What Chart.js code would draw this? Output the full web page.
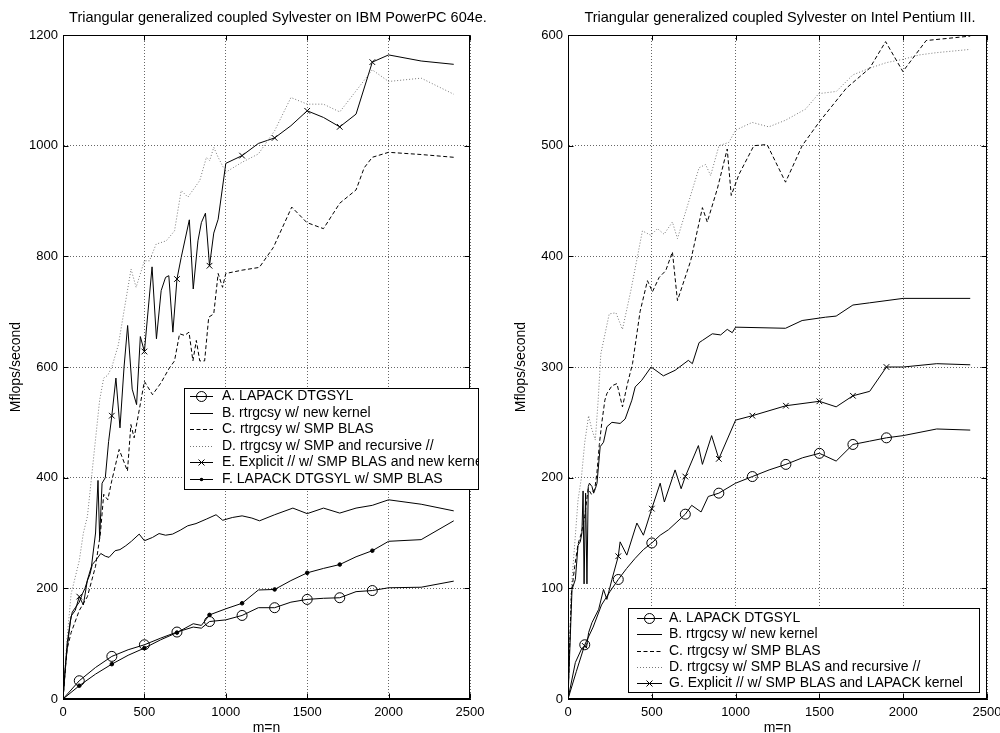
<!DOCTYPE html>
<html>
<head>
<meta charset="utf-8">
<script src="https://cdn.jsdelivr.net/npm/chart.js@4/dist/chart.umd.min.js"></script>
<style>
  body { margin: 0; background: #fff; }
  #wrap { position: relative; width: 1000px; height: 733px; }
  .pane { position: absolute; top: 0; width: 500px; height: 733px; }
</style>
</head>
<body>
<div id="wrap">
  <div class="pane" style="left:0"><canvas id="ibmChart" width="500" height="733"></canvas></div>
  <div class="pane" style="left:500px"><canvas id="intelChart" width="500" height="733"></canvas></div>
</div>
<script>
// ---- IBM PowerPC 604e (left) ----
const ibmAx = [0,100,200,300,400,500,600,700,800,850,900,1000,1100,1200,1300,1400,1500,1600,1700,1800,1900,2000,2200,2400];
const ibmAy = [0,33,57,77,89,98,110,121,130,128,140,143,151,165,165,175,180,182,183,194,196,201,202,213];
const ibmBx = [0,15,27,45,57,78,100,119,135,150,165,180,200,232,260,283,320,350,386,420,468,500,550,590,630,673,720,766,817,880,940,981,1040,1100,1160,1207,1300,1412,1500,1600,1700,1800,1900,2000,2200,2400];
const ibmBy = [0,60,94,140,157,166,175,190,200,214,225,243,250,263,258,256,268,270,277,285,298,286,292,299,296,298,305,313,317,325,333,323,328,331,327,322,333,345,335,345,336,345,350,360,352,340];
const ibmCx = [0,25,50,100,150,200,230,250,275,300,345,396,417,437,478,500,550,601,653,685,716,747,774,798,819,840,870,895,926,953,980,1000,1100,1206,1292,1405,1498,1600,1700,1800,1850,1900,2000,2200,2400];
const ibmCy = [0,90,120,160,185,240,300,370,360,395,451,412,496,472,538,574,550,571,598,611,660,657,663,611,648,611,611,690,696,769,744,769,775,780,816,889,861,850,896,920,960,979,988,984,979];
const ibmDx = [0,25,50,100,125,150,175,200,225,250,275,300,340,377,418,449,500,531,572,634,685,726,767,840,881,901,926,953,1000,1100,1200,1300,1400,1500,1600,1700,1900,2000,2200,2400];
const ibmDy = [0,110,190,250,300,330,400,470,540,580,585,600,640,705,777,744,792,792,822,828,846,919,907,937,979,973,997,979,952,970,985,1027,1087,1075,1075,1061,1137,1116,1122,1093];
const ibmEx = [0,25,50,75,100,125,150,175,200,215,225,240,260,280,300,325,350,375,397,425,452,475,500,547,574,603,630,650,675,700,726,776,800,829,850,875,900,926,953,1000,1100,1200,1300,1400,1500,1600,1700,1800,1900,2000,2200,2400];
const ibmEy = [0,100,150,160,185,170,215,240,300,395,290,390,400,465,512,580,490,600,675,560,532,655,628,781,651,738,762,765,663,759,798,866,741,828,861,878,783,842,867,968,982,1004,1014,1036,1063,1051,1034,1057,1151,1164,1153,1147];
const ibmFx = [0,100,200,300,400,500,600,700,800,850,900,1000,1100,1200,1300,1400,1500,1600,1700,1800,1900,2000,2200,2400];
const ibmFy = [0,24,45,63,79,92,107,120,136,133,152,163,173,197,198,214,228,236,243,257,268,285,288,322];

// ---- Intel Pentium III (right) ----
const intelAx = [0,50,100,150,200,250,300,350,400,450,500,550,600,650,700,738,794,837,900,1000,1100,1200,1300,1400,1500,1600,1700,1800,1900,2000,2200,2400];
const intelAy = [0,25,49,65,85,97,108,118,127,135,141,148,153,160,167,175,169,183,186,195,201,207,212,218,222,215,230,233,236,238,244,243];
const intelBx = [0,24,44,60,73,83,90,96,105,113,121,128,143,153,163,173,192,212,232,262,311,341,381,401,440,496,569,639,718,742,782,802,861,911,950,980,1000,1298,1397,1536,1600,1700,1800,2000,2400];
const intelBy = [0,99,108,139,142,150,188,104,186,104,192,195,192,186,190,195,228,232,246,250,249,253,270,282,288,300,292,297,306,303,322,324,330,329,334,331,336,335,342,345,346,356,358,362,362];
const intelCx = [0,20,40,60,80,100,120,140,160,173,187,202,220,232,262,292,325,355,385,430,474,504,544,583,623,653,732,802,831,891,950,974,1020,1109,1188,1298,1397,1502,1661,1800,1895,1998,2137,2400];
const intelCy = [0,95,120,140,150,165,190,185,190,205,230,250,270,276,283,285,264,285,303,350,378,368,381,387,404,360,396,444,431,461,497,455,474,500,501,467,500,522,552,570,594,567,595,599];
const intelDx = [0,20,40,60,80,100,123,140,163,180,196,246,286,325,375,444,494,534,573,623,653,782,821,851,901,960,1000,1099,1198,1298,1417,1496,1601,1700,1800,1899,1998,2097,2196,2400];
const intelDy = [0,100,140,180,200,232,256,245,234,270,312,348,349,334,369,423,419,425,420,431,416,480,483,473,500,503,514,521,517,523,533,547,549,564,570,575,578,582,584,587];
const intelGx = [0,44,80,100,110,123,143,183,212,232,262,300,311,351,411,450,500,550,575,639,675,700,778,802,857,900,1000,1100,1300,1500,1600,1700,1800,1900,2000,2200,2400];
const intelGy = [0,33,45,48,46,60,69,81,99,90,108,129,142,130,159,148,172,195,178,207,190,201,229,212,238,217,252,256,265,269,264,274,278,300,300,303,302];

// x positions that carry a marker
const markEvery200 = [100,300,500,700,900,1100,1300,1500,1700,1900];

const FONT = "'Liberation Sans', Arial, Helvetica, sans-serif";
Chart.defaults.font.family = FONT;
Chart.defaults.font.size = 13;
Chart.defaults.color = '#000';

function pts(xs, ys) {
  return xs.map((x, i) => ({ x: x, y: ys[i] }));
}

function series(label, xs, ys, kind, marks) {
  const ds = {
    label: label,
    data: pts(xs, ys),
    borderColor: '#000',
    borderWidth: 1,
    tension: 0,
    fill: false,
    pointStyle: 'circle',
    pointBorderColor: '#000',
    pointBorderWidth: 1,
    pointBackgroundColor: 'rgba(0,0,0,0)',
    pointRadius: 0,
    mark: null
  };
  if (kind === 'dash') ds.borderDash = [4, 2.5];
  if (kind === 'dot') { ds.borderDash = [1, 2]; ds.borderColor = '#777'; }
  if (kind === 'circle') ds.mark = 'circle';
  if (kind === 'cross') { ds.mark = 'cross'; ds.pointStyle = 'crossRot'; }
  if (kind === 'dotmark') { ds.mark = 'dot'; ds.pointBackgroundColor = '#000'; }
  const r = kind === 'circle' ? 5 : kind === 'cross' ? 4 : 1.8;
  if (marks) {
    ds.pointRadius = c => (c.raw && marks.includes(c.raw.x)) ? r : 0;
  }
  return ds;
}

function drawMark(ctx, mark, x, y) {
  ctx.save();
  ctx.setLineDash([]);
  ctx.strokeStyle = '#000';
  ctx.fillStyle = '#000';
  ctx.lineWidth = 1;
  ctx.beginPath();
  if (mark === 'circle') {
    ctx.arc(x, y, 5, 0, Math.PI * 2);
    ctx.stroke();
  } else if (mark === 'cross') {
    ctx.moveTo(x - 3, y - 3); ctx.lineTo(x + 3, y + 3);
    ctx.moveTo(x + 3, y - 3); ctx.lineTo(x - 3, y + 3);
    ctx.stroke();
  } else if (mark === 'dot') {
    ctx.arc(x, y, 1.8, 0, Math.PI * 2);
    ctx.fill();
  }
  ctx.restore();
}

// box around plot, inward ticks, title and the boxed legend
const framePlugin = {
  id: 'frame',
  afterDraw(chart, args, opts) {
    const ctx = chart.ctx;
    const a = chart.chartArea;
    const xs = chart.scales.x, ys = chart.scales.y;
    ctx.save();
    ctx.strokeStyle = '#000';
    ctx.lineWidth = 1;
    const L = Math.round(a.left) + 0.5, R = Math.round(a.right) - 0.5;
    const T = Math.round(a.top) + 0.5, B = Math.round(a.bottom) - 0.5;
    ctx.beginPath();
    xs.ticks.forEach(t => {
      const p = Math.round(xs.getPixelForValue(t.value)) + 0.5;
      ctx.moveTo(p, B); ctx.lineTo(p, B - 5);
      ctx.moveTo(p, T); ctx.lineTo(p, T + 5);
    });
    ys.ticks.forEach(t => {
      const p = Math.round(ys.getPixelForValue(t.value)) + 0.5;
      ctx.moveTo(L, p); ctx.lineTo(L + 5, p);
      ctx.moveTo(R, p); ctx.lineTo(R - 5, p);
    });
    ctx.stroke();
    ctx.strokeRect(L, T, R - L, B - T);

    // title
    ctx.fillStyle = '#000';
    ctx.font = '14.5px ' + FONT;
    ctx.textAlign = 'center';
    ctx.textBaseline = 'alphabetic';
    ctx.fillText(opts.title, opts.titleX, 22);

    // legend
    const g = opts.legend;
    ctx.save();
    ctx.fillStyle = '#fff';
    ctx.fillRect(g.x, g.y, g.w, g.h);
    ctx.beginPath();
    ctx.rect(g.x, g.y, g.w, g.h);
    ctx.clip();
    chart.data.datasets.forEach((ds, i) => {
      const cy = Math.round(g.y + g.first + i * g.rowH) + 0.5;
      ctx.strokeStyle = ds.borderColor;
      ctx.lineWidth = 1;
      ctx.setLineDash(ds.borderDash || []);
      ctx.beginPath();
      ctx.moveTo(g.x + g.s0, cy);
      ctx.lineTo(g.x + g.s1, cy);
      ctx.stroke();
      ctx.setLineDash([]);
      if (ds.mark) drawMark(ctx, ds.mark, g.x + (g.s0 + g.s1) / 2, cy);
      ctx.fillStyle = '#000';
      ctx.font = '14px ' + FONT;
      ctx.textAlign = 'left';
      ctx.textBaseline = 'middle';
      ctx.fillText(ds.label, g.x + g.tx, cy);
    });
    ctx.restore();
    ctx.strokeStyle = '#000';
    ctx.lineWidth = 1;
    ctx.strokeRect(g.x + 0.5, g.y + 0.5, g.w, g.h);
    ctx.restore();
  }
};

function makeChart(id, datasets, yMax, yStep, axisW, padRight, yTitlePad, frameOpts) {
  return new Chart(document.getElementById(id), {
    type: 'line',
    data: { datasets: datasets },
    options: {
      responsive: false,
      animation: false,
      layout: { padding: { top: 35, right: padRight, left: 0, bottom: 0 } },
      plugins: {
        legend: { display: false },
        tooltip: { enabled: false },
        frame: frameOpts
      },
      scales: {
        x: {
          type: 'linear',
          min: 0,
          max: 2500,
          ticks: { stepSize: 500, padding: 6, maxRotation: 0, color: '#000', callback: v => String(v) },
          grid: { color: '#666', drawTicks: false },
          border: { color: '#000', dash: [1, 2] },
          title: { display: true, text: 'm=n', color: '#000', font: { size: 14 }, padding: { top: 0, bottom: -4 } },
          afterFit(s) { s.height = 34; s.paddingLeft = 0; s.paddingRight = 0; }
        },
        y: {
          type: 'linear',
          min: 0,
          max: yMax,
          ticks: { stepSize: yStep, padding: 5, color: '#000', callback: v => String(v) },
          grid: { color: '#666', drawTicks: false },
          border: { color: '#000', dash: [1, 2] },
          title: { display: true, text: 'Mflops/second', color: '#000', font: { size: 14 }, padding: { top: yTitlePad, bottom: 0 } },
          afterFit(s) { s.width = axisW; s.paddingTop = 0; s.paddingBottom = 0; }
        }
      }
    },
    plugins: [framePlugin]
  });
}

makeChart('ibmChart', [
  series('A. LAPACK DTGSYL', ibmAx, ibmAy, 'circle', markEvery200),
  series('B. rtrgcsy w/ new kernel', ibmBx, ibmBy, 'solid'),
  series('C. rtrgcsy w/ SMP BLAS', ibmCx, ibmCy, 'dash'),
  series('D. rtrgcsy w/ SMP and recursive //', ibmDx, ibmDy, 'dot'),
  series('E. Explicit // w/ SMP BLAS and new kernel', ibmEx, ibmEy, 'cross', markEvery200),
  series('F. LAPACK DTGSYL w/ SMP BLAS', ibmFx, ibmFy, 'dotmark', markEvery200)
], 1200, 200, 63, 30, 8, {
  title: 'Triangular generalized coupled Sylvester on IBM PowerPC 604e.',
  titleX: 278,
  legend: { x: 184, y: 388, w: 294, h: 101, first: 8, rowH: 16.6, s0: 6, s1: 29, tx: 38 }
});

makeChart('intelChart', [
  series('A. LAPACK DTGSYL', intelAx, intelAy, 'circle', markEvery200),
  series('B. rtrgcsy w/ new kernel', intelBx, intelBy, 'solid'),
  series('C. rtrgcsy w/ SMP BLAS', intelCx, intelCy, 'dash'),
  series('D. rtrgcsy w/ SMP BLAS and recursive //', intelDx, intelDy, 'dot'),
  series('G. Explicit // w/ SMP BLAS and LAPACK kernel', intelGx, intelGy, 'cross', markEvery200)
], 600, 100, 68, 13, 13, {
  title: 'Triangular generalized coupled Sylvester on Intel Pentium III.',
  titleX: 280,
  legend: { x: 128, y: 608, w: 351, h: 84, first: 10, rowH: 16.3, s0: 9, s1: 34, tx: 41 }
});
</script>
</body>
</html>
